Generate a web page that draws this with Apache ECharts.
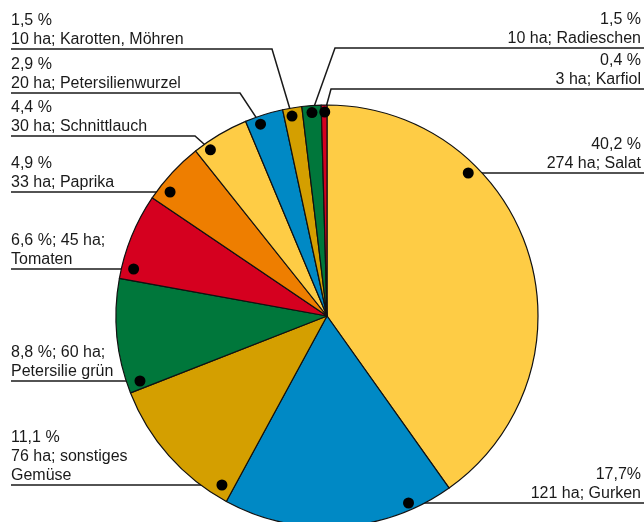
<!DOCTYPE html>
<html>
<head>
<meta charset="utf-8">
<script src="https://cdn.jsdelivr.net/npm/echarts@6/dist/echarts.min.js"></script>
<style>
  html, body { margin: 0; padding: 0; background: #fff; }
  #chart { width: 644px; height: 522px; }
</style>
</head>
<body>
<div id="chart"></div>
<script>
// Gemüseanbau nach Kulturen (Fläche in ha), im Uhrzeigersinn ab 12 Uhr
const categories = ['Salat', 'Gurken', 'sonstiges Gemüse', 'Petersilie grün', 'Tomaten', 'Paprika',
  'Schnittlauch', 'Petersilienwurzel', 'Karotten, Möhren', 'Radieschen', 'Karfiol'];
const hectares = [274, 121, 76, 60, 45, 33, 30, 20, 10, 10, 3];
const percentText = ['40,2 %', '17,7%', '11,1 %', '8,8 %', '6,6 %', '4,9 %', '4,4 %', '2,9 %', '1,5 %', '1,5 %', '0,4 %'];
const sliceColors = ['#FECC45', '#0089C5', '#D49F00', '#00773B', '#D5001F', '#EE7E00',
  '#FECC45', '#0089C5', '#D49F00', '#00773B', '#D5001F'];

// Pie geometry
const CX = 327, CY = 316, R = 211;
const LEFT_X = 11, RIGHT_X = 641, RIGHT_EDGE = 644;

// Label placement: side, y of the underline, optional elbow x, and where the dot sits
// (either on the underline at radius rd, or at fraction t of the slice angle)
const labelPlacement = [
  { side: 'right', lineY: 173, rd: 201 },
  { side: 'right', lineY: 503, rd: 204 },
  { side: 'left', lineY: 485, rd: 199, wrap: true },
  { side: 'left', lineY: 381, rd: 198, inline: true },
  { side: 'left', lineY: 269, rd: 199, inline: true },
  { side: 'left', lineY: 192, rd: 200 },
  { side: 'left', lineY: 136, elbowX: 195, t: 0.22, rd: 203 },
  { side: 'left', lineY: 93, elbowX: 240, t: 0.34, rd: 203 },
  { side: 'left', lineY: 49, elbowX: 272, t: 0.42, rd: 203 },
  { side: 'right', lineY: 48, elbowX: 335, t: 0.5, rd: 204 },
  { side: 'right', lineY: 89, elbowX: 331, t: 0.6, rd: 204 }
];

const total = hectares.reduce((a, b) => a + b, 0);

function sliceAngles(i) {
  let before = 0;
  for (let k = 0; k < i; k++) before += hectares[k];
  const a0 = before / total * 360;
  const a1 = (before + hectares[i]) / total * 360;
  return [a0, a1];
}

function dotPoint(i) {
  const p = labelPlacement[i];
  if (p.t != null) {
    const [a0, a1] = sliceAngles(i);
    const th = (a0 + p.t * (a1 - a0)) * Math.PI / 180;
    return [CX + p.rd * Math.sin(th), CY - p.rd * Math.cos(th)];
  }
  const dy = p.lineY - CY;
  const dx = Math.sqrt(Math.max(0, p.rd * p.rd - dy * dy));
  return [p.side === 'right' ? CX + dx : CX - dx, p.lineY];
}

function labelText(i) {
  const p = labelPlacement[i];
  const pct = percentText[i];
  const ha = hectares[i] + ' ha';
  const name = categories[i];
  if (p.inline) return pct + '; ' + ha + ';\n' + name;
  if (p.wrap) {
    const sp = name.indexOf(' ');
    return pct + '\n' + ha + '; ' + name.slice(0, sp) + '\n' + name.slice(sp + 1);
  }
  return pct + '\n' + ha + '; ' + name;
}

const chart = echarts.init(document.getElementById('chart'), null, { renderer: 'canvas' });

const dots = categories.map((c, i) => {
  const [x, y] = dotPoint(i);
  return { type: 'circle', shape: { cx: x, cy: y, r: 5.5 }, style: { fill: '#000' }, z: 100 };
});

chart.setOption({
  animation: false,
  backgroundColor: '#fff',
  graphic: dots,
  series: [{
    type: 'pie',
    center: [CX, CY],
    radius: [0, R],
    startAngle: 90,
    clockwise: true,
    avoidLabelOverlap: false,
    silent: true,
    data: categories.map((name, i) => ({
      name: name,
      value: hectares[i],
      itemStyle: { color: sliceColors[i] }
    })),
    itemStyle: { borderColor: '#111', borderWidth: 1.2 },
    label: {
      show: true,
      position: 'outside',
      formatter: (p) => labelText(p.dataIndex),
      fontFamily: 'Liberation Sans, Arial, sans-serif',
      fontSize: 16,
      lineHeight: 18.7,
      color: '#1a1a1a'
    },
    labelLine: {
      show: true,
      smooth: false,
      lineStyle: { color: '#1a1a1a', width: 1.5 }
    },
    labelLayout: (params) => {
      const i = params.dataIndex;
      const p = labelPlacement[i];
      const dot = dotPoint(i);
      const elbow = p.elbowX != null ? [p.elbowX, p.lineY] : [dot[0], p.lineY];
      const end = p.side === 'left' ? [LEFT_X, p.lineY] : [RIGHT_EDGE, p.lineY];
      return {
        x: p.side === 'left' ? LEFT_X : RIGHT_X,
        y: p.lineY - 0.5,
        align: p.side === 'left' ? 'left' : 'right',
        verticalAlign: 'bottom',
        hideOverlap: false,
        labelLinePoints: [dot, elbow, end]
      };
    },
    emphasis: { disabled: true }
  }]
});
</script>
</body>
</html>
